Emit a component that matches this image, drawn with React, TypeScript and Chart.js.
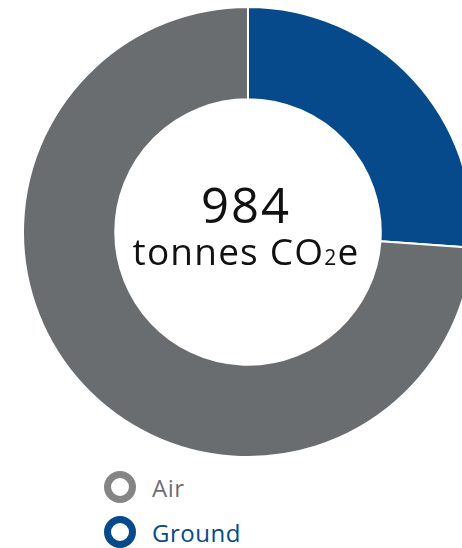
import React, { useEffect, useRef } from "react";
import { Chart, registerables } from "chart.js";

Chart.register(...registerables);

const categories = ["Air", "Ground"];
const values = [727, 257];
const sliceColors = ["#6a6d70", "#064a8c"];
const legendRingColors = ["#858585", "#064a8c"];
const legendTextColors = ["#6f6f6f", "#064a8c"];
const totalLabel = "984";

export default function App() {
  const ref = useRef<HTMLCanvasElement | null>(null);

  useEffect(() => {
    if (!ref.current) return;
    // draw Ground first (clockwise from the top), then Air
    const order = [1, 0];
    const chart = new Chart(ref.current, {
      type: "doughnut",
      data: {
        labels: order.map((i) => categories[i]),
        datasets: [
          {
            data: order.map((i) => values[i]),
            backgroundColor: order.map((i) => sliceColors[i]),
            borderColor: "#ffffff",
            borderWidth: 2,
          },
        ],
      },
      options: {
        responsive: false,
        animation: false,
        cutout: "59%",
        layout: { padding: 0 },
        plugins: {
          legend: { display: false },
          tooltip: { enabled: false },
        },
      },
    });
    return () => chart.destroy();
  }, []);

  const font = "'Open Sans', sans-serif";

  return (
    <div
      style={{
        position: "fixed",
        left: 0,
        top: 0,
        width: 462,
        height: 548,
        overflow: "hidden",
        background: "#ffffff",
        fontFamily: font,
      }}
    >
      <canvas
        ref={ref}
        width={452}
        height={452}
        style={{ position: "absolute", left: 22, top: 6, width: 452, height: 452 }}
      />
      <div
        style={{
          position: "absolute",
          left: 96,
          width: 300,
          top: 180,
          textAlign: "center",
          color: "#111111",
          lineHeight: 1,
        }}
      >
        <div style={{ fontSize: 49, fontWeight: 400, letterSpacing: 2 }}>{totalLabel}</div>
        <div style={{ fontSize: 37, fontWeight: 400, marginTop: 3, letterSpacing: 1.2 }}>
          tonnes CO<span style={{ fontSize: 21 }}>2</span>e
        </div>
      </div>
      <div style={{ position: "absolute", left: 104, top: 471 }}>
        {categories.map((c, i) => (
          <div
            key={c}
            style={{ display: "flex", alignItems: "center", height: 32, marginBottom: 13 }}
          >
            <div
              style={{
                width: 18,
                height: 18,
                borderRadius: "50%",
                border: `7px solid ${legendRingColors[i]}`,
              }}
            />
            <span
              style={{
                marginLeft: 16,
                fontSize: 24,
                color: legendTextColors[i],
                letterSpacing: 0.5,
              }}
            >
              {c}
            </span>
          </div>
        ))}
      </div>
    </div>
  );
}
